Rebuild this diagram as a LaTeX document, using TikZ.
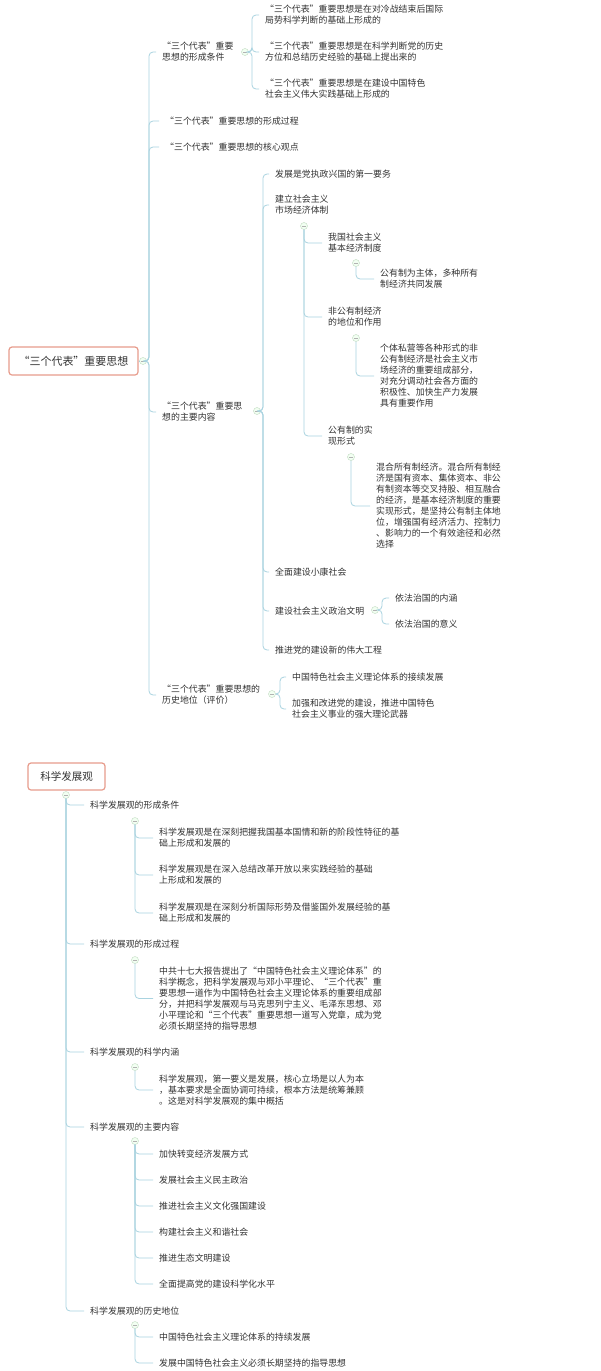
\documentclass[tikz,border=0pt]{standalone}
\usepackage{fontspec}
\setmainfont{Noto Sans CJK SC}
\usetikzlibrary{calc}
\definecolor{ln}{HTML}{A9D3E0}
\definecolor{tx}{HTML}{333333}
\definecolor{bx}{HTML}{E79C8C}
\tikzset{
  t/.style={anchor=west,inner sep=0pt,align=left,text=tx,font=\fontsize{8.9}{11}\selectfont},
  ln/.style={draw=ln,line width=0.8pt,rounded corners=4pt},
  dot/.style={circle,draw=green!25!gray!40,fill=green!5,minimum size=7pt,inner sep=0pt,
    path picture={\draw[gray!60,line width=0.5pt] ([xshift=-2pt]path picture bounding box.center)--([xshift=2pt]path picture bounding box.center);}},
  rootbox/.style={draw=bx,line width=1.2pt,rounded corners=3pt,fill=white,text=tx,inner sep=0pt}
}
\newcommand{\br}[2]{\draw[ln] (#1) |- ($(#2.west)+(-6pt,0)$);}
\newcommand{\bt}[3]{\draw[ln] (#1.east) -- (#2) |- ($(#3.west)+(-6pt,0)$);}
\begin{document}
\begin{tikzpicture}[x=1pt,y=-1pt]
\useasboundingbox[fill=white] (0,0) rectangle (600,1371);
% ===== top =====
\node[rootbox,minimum width=129pt,minimum height=28pt,font=\fontsize{11}{13}\selectfont] (root) at (73.5,361) {“三个代表”重要思想};
\node[dot] (rc) at (143,361) {};
\draw[ln,rounded corners=0] (root.east) -- (rc.west);
\coordinate (rt) at (149,361);
\node[t] (a1) at (162,52) {“三个代表”重要\\思想的形成条件};
\node[t] (a2) at (165,121) {“三个代表”重要思想的形成过程};
\node[t] (a3) at (165,147) {“三个代表”重要思想的核心观点};
\node[t] (a4) at (162,412) {“三个代表”重要思\\想的主要内容};
\node[t] (a5) at (162,695) {“三个代表”重要思想的\\历史地位（评价）};
\foreach \n in {a1,a2,a3,a4,a5} {\bt{rc}{rt}{\n}}
% 形成条件
\node[dot] (c1) at (245,52) {};
\coordinate (c1t) at (252,52);
\node[t] (a11) at (265,15) {“三个代表”重要思想是在对冷战结束后国际\\局势科学判断的基础上形成的};
\node[t] (a12) at (265,52) {“三个代表”重要思想是在科学判断党的历史\\方位和总结历史经验的基础上提出来的};
\node[t] (a13) at (265,89) {“三个代表”重要思想是在建设中国特色\\社会主义伟大实践基础上形成的};
\foreach \n in {a11,a12,a13} {\bt{c1}{c1t}{\n}}
% 主要内容
\node[dot] (c4) at (257,411) {};
\coordinate (c4t) at (263,411);
\node[t] (b1) at (275,174) {发展是党执政兴国的第一要务};
\node[t] (b2) at (275,205) {建立社会主义\\市场经济体制};
\node[t] (b3) at (275,572) {全面建设小康社会};
\node[t] (b4) at (275,611) {建设社会主义政治文明};
\node[t] (b5) at (275,650) {推进党的建设新的伟大工程};
\foreach \n in {b1,b2,b3,b4,b5} {\bt{c4}{c4t}{\n}}
% 市场经济体制
\node[dot] (c21) at (304,226) {};
\node[t] (d1) at (328,243) {我国社会主义\\基本经济制度};
\node[t] (d2) at (328,317) {非公有制经济\\的地位和作用};
\node[t] (d3) at (328,436) {公有制的实\\现形式};
\foreach \n in {d1,d2,d3} {\br{c21.south}{\n}}
\node[dot] (cd1) at (356,263) {};
\node[t] (e1) at (380,279) {公有制为主体，多种所有\\制经济共同发展};
\br{cd1.south}{e1}
\node[dot] (cd2) at (356,338) {};
\node[t] (e2) at (380,376) {个体私营等各种形式的非\\公有制经济是社会主义市\\场经济的重要组成部分，\\对充分调动社会各方面的\\积极性、加快生产力发展\\具有重要作用};
\br{cd2.south}{e2}
\node[dot] (cd3) at (351,457) {};
\node[t] (e3) at (376,506) {混合所有制经济。混合所有制经\\济是国有资本、集体资本、非公\\有制资本等交叉持股、相互融合\\的经济，是基本经济制度的重要\\实现形式，是坚持公有制主体地\\位，增强国有经济活力、控制力\\、影响力的一个有效途径和必然\\选择};
\br{cd3.south}{e3}
% 政治文明
\node[dot] (c24) at (375,610) {};
\coordinate (c24t) at (382,610);
\node[t] (f1) at (395,598) {依法治国的内涵};
\node[t] (f2) at (395,624) {依法治国的意义};
\foreach \n in {f1,f2} {\bt{c24}{c24t}{\n}}
% 历史地位
\node[dot] (c5) at (272,694) {};
\coordinate (c5t) at (280,694);
\node[t] (g1) at (292,677) {中国特色社会主义理论体系的接续发展};
\node[t] (g2) at (292,709) {加强和改进党的建设，推进中国特色\\社会主义事业的强大理论武器};
\foreach \n in {g1,g2} {\bt{c5}{c5t}{\n}}
% ===== bottom =====
\node[rootbox,minimum width=77pt,minimum height=27pt,font=\fontsize{10.5}{12}\selectfont] (r2) at (66.5,776.5) {科学发展观};
\node[dot] (r2c) at (66,795) {};
\node[t] (h1) at (90,805) {科学发展观的形成条件};
\node[t] (h2) at (90,944) {科学发展观的形成过程};
\node[t] (h3) at (90,1052) {科学发展观的科学内涵};
\node[t] (h4) at (90,1127) {科学发展观的主要内容};
\node[t] (h5) at (90,1311) {科学发展观的历史地位};
\foreach \n in {h1,h2,h3,h4,h5} {\br{r2c.south}{\n}}
\node[dot] (k1) at (135,821) {};
\node[t] (m11) at (159,838) {科学发展观是在深刻把握我国基本国情和新的阶段性特征的基\\础上形成和发展的};
\node[t] (m12) at (159,875) {科学发展观是在深入总结改革开放以来实践经验的基础\\上形成和发展的};
\node[t] (m13) at (159,913) {科学发展观是在深刻分析国际形势及借鉴国外发展经验的基\\础上形成和发展的};
\foreach \n in {m11,m12,m13} {\br{k1.south}{\n}}
\node[dot] (k2) at (135,960) {};
\node[t] (m21) at (159,998.5) {中共十七大报告提出了“中国特色社会主义理论体系”的\\科学概念，把科学发展观与邓小平理论、“三个代表”重\\要思想一道作为中国特色社会主义理论体系的重要组成部\\分，并把科学发展观与马克思列宁主义、毛泽东思想、邓\\小平理论和“三个代表”重要思想一道写入党章，成为党\\必须长期坚持的指导思想};
\br{k2.south}{m21}
\node[dot] (k3) at (135,1067) {};
\node[t] (m31) at (159,1090) {科学发展观，第一要义是发展，核心立场是以人为本\\，基本要求是全面协调可持续，根本方法是统筹兼顾\\。这是对科学发展观的集中概括};
\br{k3.south}{m31}
\node[dot] (k4) at (135,1141) {};
\node[t] (m41) at (159,1154) {加快转变经济发展方式};
\node[t] (m42) at (159,1180) {发展社会主义民主政治};
\node[t] (m43) at (159,1206) {推进社会主义文化强国建设};
\node[t] (m44) at (159,1232) {构建社会主义和谐社会};
\node[t] (m45) at (159,1258) {推进生态文明建设};
\node[t] (m46) at (159,1284) {全面提高党的建设科学化水平};
\foreach \n in {m41,m42,m43,m44,m45,m46} {\br{k4.south}{\n}}
\node[dot] (k5) at (135,1325) {};
\node[t] (m51) at (159,1337) {中国特色社会主义理论体系的持续发展};
\node[t] (m52) at (159,1363) {发展中国特色社会主义必须长期坚持的指导思想};
\foreach \n in {m51,m52} {\br{k5.south}{\n}}
\end{tikzpicture}
\end{document}
